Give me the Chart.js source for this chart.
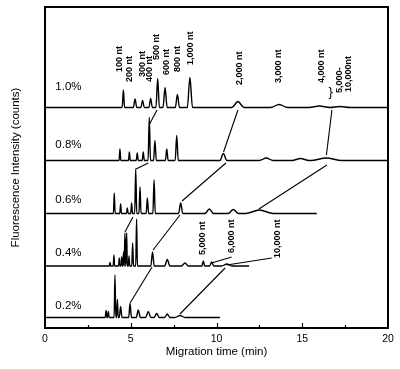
<!DOCTYPE html>
<html>
<head>
<meta charset="utf-8">
<script src="https://cdn.jsdelivr.net/npm/chart.js@4.4.0/dist/chart.umd.min.js"></script>
<style>
  html, body { margin: 0; padding: 0; background: #fff; }
  canvas { display: block; }
</style>
</head>
<body>
<canvas id="myChart" width="400" height="369"></canvas>
<script>
// gel concentrations, one electropherogram each (top to bottom)
const gels = ['1.0%', '0.8%', '0.6%', '0.4%', '0.2%'];
const baselines = [220.5, 167.5, 114.5, 62, 10.5];
const runEnd = [20, 20, 15.85, 11.9, 10.2];

// peaks: migration time (min), height, half width (min)
const peakTimes = [
  [4.57, 5.25, 5.69, 6.16, 6.57, 7.0, 7.72, 8.45, 11.25, 13.65, 16.0, 17.2],
  [4.37, 4.92, 5.38, 5.73, 6.08, 6.41, 7.1, 7.68, 10.4, 12.9, 14.9, 16.4],
  [4.04, 4.41, 4.8, 5.05, 5.29, 5.54, 5.97, 6.36, 7.91, 9.58, 10.98, 12.5],
  [3.79, 4.02, 4.33, 4.47, 4.58, 4.66, 4.76, 4.9, 5.11, 5.34, 6.27, 7.13, 8.16, 9.23, 9.72, 10.6],
  [3.56, 3.69, 4.08, 4.22, 4.41, 4.96, 5.44, 6.02, 6.51, 7.13, 7.87]
];
const peakHeights = [
  [17.5, 8.5, 7, 9, 29, 20, 13, 30, 6, 3, 1.5, 1],
  [11.5, 8.5, 7.5, 8.5, 43, 20, 11.5, 25, 7, 2.5, 2, 2.5],
  [20.5, 9.5, 5.5, 10.5, 44.5, 26.5, 15.5, 33.5, 10.5, 4.5, 4, 3.5],
  [3.5, 11, 8, 9, 14, 33, 33, 10, 23, 47, 14, 6.5, 3, 5, 4, 2],
  [7, 6, 42.5, 18, 11, 14, 7.5, 6, 4, 3.5, 2]
];
const peakWidths = [
  [0.07, 0.1, 0.1, 0.1, 0.1, 0.12, 0.12, 0.15, 0.35, 0.5, 0.6, 0.6],
  [0.05, 0.05, 0.06, 0.06, 0.07, 0.08, 0.08, 0.09, 0.2, 0.4, 0.5, 0.9],
  [0.05, 0.05, 0.05, 0.05, 0.06, 0.06, 0.07, 0.07, 0.12, 0.25, 0.3, 0.8],
  [0.04, 0.04, 0.04, 0.04, 0.04, 0.04, 0.04, 0.04, 0.05, 0.05, 0.1, 0.15, 0.2, 0.08, 0.12, 0.3],
  [0.05, 0.05, 0.05, 0.05, 0.08, 0.08, 0.12, 0.15, 0.15, 0.15, 0.3]
];

// lines linking the same fragment between gels: [t1, y1, t2, y2]
const links = [
  [6.53, 218, 6.1, 204],
  [11.25, 218, 10.41, 176],
  [16.73, 218, 16.41, 173],
  [6.02, 165, 5.31, 159],
  [10.55, 165, 7.99, 127],
  [16.44, 163, 12.47, 119],
  [5.13, 111, 4.66, 96],
  [7.87, 113, 6.3, 78],
  [10.88, 71, 9.72, 65],
  [13.22, 70, 10.6, 63],
  [6.24, 61, 4.96, 25],
  [10.5, 60, 7.87, 14]
];

// fragment size labels (vertical): text, time, bottom of text
const sizeLabels = ['100 nt', '200 nt', '300 nt', '400 nt', '500 nt', '600 nt', '800 nt', '1,000 nt',
  '2,000 nt', '3,000 nt', '4,000 nt', '5,000-', '10,000nt', '5,000 nt', '6,000 nt', '10,000 nt'];
const sizeTimes = [4.34, 4.9, 5.71, 6.12, 6.53, 7.06, 7.73, 8.51, 11.37, 13.64, 16.15, 17.2, 17.72, 9.21, 10.9, 13.53];
const sizeY = [256, 246, 251, 246, 268, 253, 256, 263, 243, 245, 245, 235, 236, 73, 75, 70];

const gelLabelTime = 0.6;
const gelLabelY = [241, 183, 128, 75, 22];

const family = "'Liberation Sans', Arial, Helvetica, sans-serif";
Chart.defaults.font.family = family;
Chart.defaults.color = '#000';

function buildTrace(i) {
  const base = baselines[i];
  const t = peakTimes[i], h = peakHeights[i], w = peakWidths[i];
  const pts = [{x: 0, y: base}];
  for (let k = 0; k < t.length; k++) {
    const left = t[k] - w[k];
    if (left > pts[pts.length - 1].x) pts.push({x: left, y: base});
    pts.push({x: t[k], y: base + h[k]});
    const right = t[k] + w[k];
    if (k + 1 < t.length && right >= t[k + 1] - w[k + 1]) {
      pts.push({x: (t[k] + t[k + 1]) / 2, y: base});
    } else {
      pts.push({x: right, y: base});
    }
  }
  pts.push({x: runEnd[i], y: base});
  return pts;
}

const datasets = [];
gels.forEach((g, i) => {
  datasets.push({
    label: g,
    data: buildTrace(i),
    borderColor: '#000',
    borderWidth: 1.4,
    pointRadius: 0,
    cubicInterpolationMode: 'monotone',
    fill: false
  });
});
links.forEach((l, i) => {
  datasets.push({
    label: 'link' + i,
    data: [{x: l[0], y: l[1]}, {x: l[2], y: l[3]}],
    borderColor: '#000',
    borderWidth: 1.1,
    pointRadius: 0,
    tension: 0,
    fill: false
  });
});

// frame, inward ticks and text on the plot
const decor = {
  id: 'decor',
  afterDatasetsDraw(chart) {
    const {ctx, chartArea: a, scales: {x, y}} = chart;
    ctx.save();
    ctx.strokeStyle = '#000';
    ctx.lineWidth = 2;
    ctx.strokeRect(a.left, a.top, a.right - a.left, a.bottom - a.top);

    ctx.lineWidth = 1.2;
    for (let v = 2.5; v < 20; v += 2.5) {
      const px = Math.round(x.getPixelForValue(v)) + 0.5;
      const len = (v % 5 === 0) ? 5 : 3;
      ctx.beginPath();
      ctx.moveTo(px, a.bottom);
      ctx.lineTo(px, a.bottom - len);
      ctx.stroke();
    }

    ctx.fillStyle = '#000';
    ctx.font = '11.5px ' + family;
    ctx.textAlign = 'left';
    ctx.textBaseline = 'middle';
    gels.forEach((g, i) => {
      ctx.fillText(g, x.getPixelForValue(gelLabelTime), y.getPixelForValue(gelLabelY[i]));
    });

    ctx.font = 'bold 9px ' + family;
    sizeLabels.forEach((s, i) => {
      ctx.save();
      ctx.translate(x.getPixelForValue(sizeTimes[i]), y.getPixelForValue(sizeY[i]));
      ctx.rotate(-Math.PI / 2);
      ctx.fillText(s, 0, 0);
      ctx.restore();
    });

    // brace grouping 5,000-10,000 nt
    ctx.font = '13px ' + family;
    ctx.textAlign = 'center';
    ctx.fillText('}', x.getPixelForValue(16.65), y.getPixelForValue(236));
    ctx.restore();
  }
};

new Chart(document.getElementById('myChart'), {
  type: 'line',
  data: {datasets: datasets},
  options: {
    responsive: false,
    animation: false,
    devicePixelRatio: 1,
    layout: {padding: {top: 7, right: 12, left: 0, bottom: 0}},
    plugins: {legend: {display: false}, tooltip: {enabled: false}},
    scales: {
      x: {
        type: 'linear',
        min: 0,
        max: 20,
        ticks: {stepSize: 5, color: '#000', font: {size: 10.5}, padding: 5, maxRotation: 0},
        grid: {display: false, drawTicks: false},
        border: {display: false},
        title: {display: true, text: 'Migration time (min)', color: '#000', font: {size: 11.5}, padding: {top: 0, bottom: 10}},
        afterFit(s) { s.height = 41; }
      },
      y: {
        min: 0,
        max: 321,
        ticks: {display: false},
        grid: {display: false, drawTicks: false},
        border: {display: false},
        title: {display: true, text: 'Fluorescence Intensity (counts)', color: '#000', font: {size: 11.5}, padding: {top: 9, bottom: 0}},
        afterFit(s) { s.width = 45; }
      }
    }
  },
  plugins: [decor]
});
</script>
</body>
</html>
